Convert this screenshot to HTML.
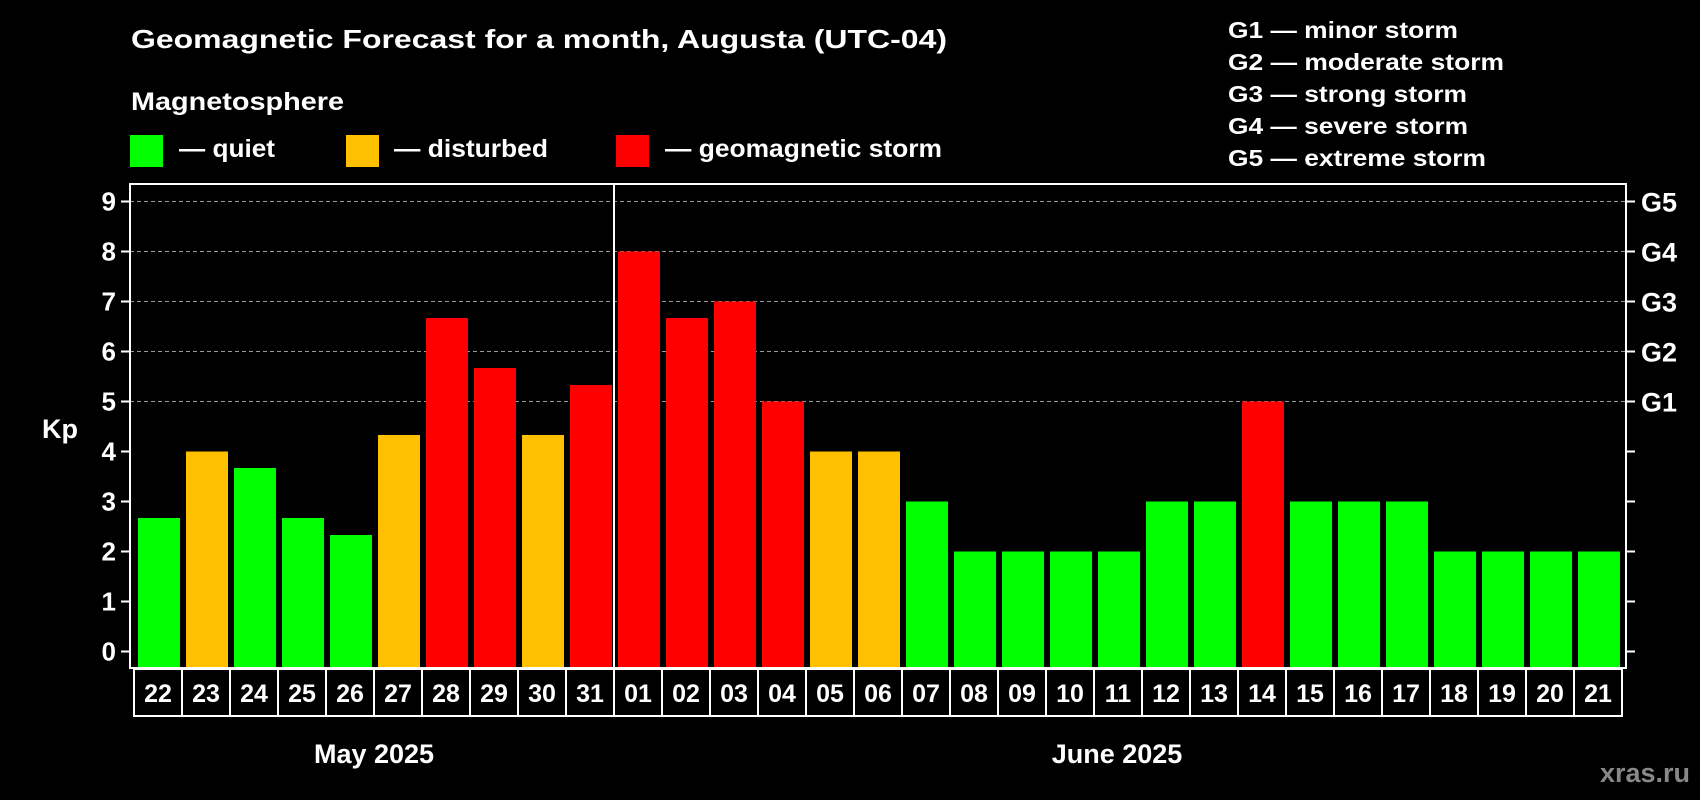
<!DOCTYPE html>
<html><head><meta charset="utf-8"><style>
html,body{margin:0;padding:0;background:#000;}
svg{display:block;font-family:"Liberation Sans",sans-serif;font-weight:bold;}
</style></head><body>
<svg id="chart" width="1700" height="800" viewBox="0 0 1700 800" xmlns="http://www.w3.org/2000/svg">
<rect width="1700" height="800" fill="#000"/>
<text x="131" y="48" fill="#fff" font-size="26" textLength="816" lengthAdjust="spacingAndGlyphs">Geomagnetic Forecast for a month, Augusta (UTC-04)</text>
<text x="131" y="110" fill="#fff" font-size="25" textLength="213" lengthAdjust="spacingAndGlyphs">Magnetosphere</text>
<g>
<rect x="130" y="135" width="33" height="32" fill="#00ff00"/>
<text x="179" y="157" fill="#fff" font-size="25" textLength="96" lengthAdjust="spacingAndGlyphs">— quiet</text></g>
<g>
<rect x="346" y="135" width="33" height="32" fill="#ffc000"/>
<text x="394" y="157" fill="#fff" font-size="25" textLength="154" lengthAdjust="spacingAndGlyphs">— disturbed</text></g>
<g>
<rect x="616" y="135" width="33" height="32" fill="#ff0000"/>
<text x="665" y="157" fill="#fff" font-size="25" textLength="277" lengthAdjust="spacingAndGlyphs">— geomagnetic storm</text></g>
<g fill="#fff" font-size="23">
<text x="1228" y="38" textLength="230" lengthAdjust="spacingAndGlyphs">G1 — minor storm</text>
<text x="1228" y="70" textLength="276" lengthAdjust="spacingAndGlyphs">G2 — moderate storm</text>
<text x="1228" y="102" textLength="239" lengthAdjust="spacingAndGlyphs">G3 — strong storm</text>
<text x="1228" y="134" textLength="240" lengthAdjust="spacingAndGlyphs">G4 — severe storm</text>
<text x="1228" y="166" textLength="258" lengthAdjust="spacingAndGlyphs">G5 — extreme storm</text>
</g>
<g id="grid"></g>
<g id="bars"></g>
<g id="axes"></g>
<text x="42" y="438" fill="#fff" font-size="27">Kp</text>
<text x="374" y="763" fill="#fff" font-size="27" text-anchor="middle">May 2025</text>
<text x="1117" y="763" fill="#fff" font-size="27" text-anchor="middle">June 2025</text>
<text x="1690" y="782" fill="#888" font-size="27" text-anchor="end">xras.ru</text>
</svg>
<script>
const days = ["22","23","24","25","26","27","28","29","30","31","01","02","03","04","05","06","07","08","09","10","11","12","13","14","15","16","17","18","19","20","21"];
const kpValues = [2.67,4,3.67,2.67,2.33,4.33,6.67,5.67,4.33,5.33,8,6.67,7,5,4,4,3,2,2,2,2,3,3,5,3,3,3,2,2,2,2];
const yTicks = [0,1,2,3,4,5,6,7,8,9];
const gLabels = ["","","","","","G1","G2","G3","G4","G5"];
const monthBreakIndex = 10;

const NS="http://www.w3.org/2000/svg";
const plotLeft=130,plotRight=1626,plotTop=184,plotBottom=668;
const pitch=48, slotStart=134;
const yScale=v=>651.5-v*50;
const xSlot=i=>slotStart+i*pitch;
function mk(tag,attrs,parent){const e=document.createElementNS(NS,tag);for(const k in attrs)e.setAttribute(k,attrs[k]);parent.appendChild(e);return e;}
const gridG=document.getElementById('grid'),barsG=document.getElementById('bars'),axesG=document.getElementById('axes');
yTicks.forEach((t,i)=>{
  const y=yScale(t);
  if(t>=5){const g=mk('line',{x1:plotLeft,x2:plotRight,y1:y,y2:y,stroke:'#999','stroke-width':1,'stroke-dasharray':'4,3'},gridG);
    
    }
  const tl=mk('line',{x1:plotLeft-9,x2:plotLeft,y1:y,y2:y,stroke:'#fff','stroke-width':2},axesG);
  
  
  const tr=mk('line',{x1:plotRight,x2:plotRight+9,y1:y,y2:y,stroke:'#fff','stroke-width':2},axesG);
  
  
  const lab=mk('text',{x:plotLeft-14,y:y+9,fill:'#fff','font-size':26,'text-anchor':'end'},axesG);
  lab.textContent=t;
  
  
  if(gLabels[i]){const gl=mk('text',{x:plotRight+15,y:y+10,fill:'#fff','font-size':27},axesG);
    gl.textContent=gLabels[i];
    
    }
});
kpValues.forEach((v,i)=>{
  const col=v>=5?'#ff0000':(v>=4?'#ffc000':'#00ff00');
  const b=mk('rect',{x:xSlot(i)+4,y:yScale(v),width:42,height:plotBottom-yScale(v),fill:col},barsG);
  
  
  const c=mk('rect',{x:xSlot(i),y:plotBottom+1,width:pitch,height:47,fill:'none',stroke:'#fff','stroke-width':2},axesG);
  
  
  const t=mk('text',{x:xSlot(i)+pitch/2,y:plotBottom+34,fill:'#fff','font-size':25,'text-anchor':'middle'},axesG);
  t.textContent=days[i];
  
  
});
const fr=mk('rect',{x:plotLeft,y:plotTop,width:plotRight-plotLeft,height:plotBottom-plotTop,fill:'none',stroke:'#fff','stroke-width':2},axesG);


const dx=xSlot(monthBreakIndex);
const dv=mk('line',{x1:dx,x2:dx,y1:plotTop,y2:plotBottom+48,stroke:'#fff','stroke-width':2},axesG);


</script>
</body></html>
